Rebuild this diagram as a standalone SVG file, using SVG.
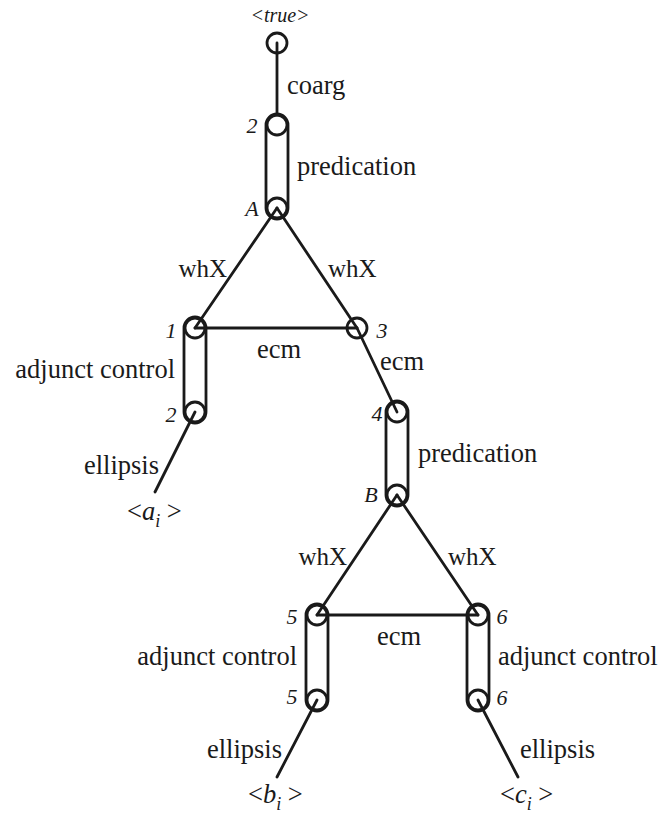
<svg xmlns="http://www.w3.org/2000/svg" width="661" height="820" viewBox="0 0 661 820">
<style>
text{font-family:"Liberation Serif","Times New Roman",serif;fill:#1a1a1a}
.lbl{font-size:26.5px}
.wh{font-size:25px}
.num{font-size:22px;font-style:italic}
.it{font-style:italic}
.sub{font-size:18px;font-style:italic}
.edge{stroke:#1a1a1a;stroke-width:2.8;fill:none;stroke-linecap:round}
.node{stroke:#1a1a1a;stroke-width:2.8;fill:none}
.cap{stroke:#1a1a1a;stroke-width:2.8;fill:none}
</style>
<rect width="661" height="820" fill="#ffffff"/>
<g id="connectors">
<line class="edge" x1="277" y1="43" x2="277" y2="115"/>
<line class="edge" x1="277" y1="208" x2="195" y2="328"/>
<line class="edge" x1="277" y1="208" x2="357" y2="328"/>
<line class="edge" x1="195" y1="328" x2="357" y2="328"/>
<line class="edge" x1="357" y1="328" x2="397" y2="412"/>
<line class="edge" x1="195" y1="412" x2="155" y2="492"/>
<line class="edge" x1="397" y1="495" x2="317" y2="615"/>
<line class="edge" x1="397" y1="495" x2="478" y2="615"/>
<line class="edge" x1="317" y1="615" x2="478" y2="615"/>
<line class="edge" x1="317" y1="700" x2="277" y2="777"/>
<line class="edge" x1="478" y1="700" x2="518" y2="777"/>
<rect class="cap" x="266" y="114" width="22" height="105" rx="11"/>
<rect class="cap" x="184" y="317" width="22" height="106" rx="11"/>
<rect class="cap" x="386" y="401" width="22" height="105" rx="11"/>
<rect class="cap" x="306" y="604" width="22" height="107" rx="11"/>
<rect class="cap" x="467" y="604" width="22" height="107" rx="11"/>
</g>
<g id="n-true"><circle class="node" cx="277" cy="43" r="10"/><text class="it" x="280" y="22" font-size="20" text-anchor="middle">&lt;true&gt;</text></g>
<g id="n-2a"><circle class="node" cx="277" cy="125" r="10"/><text class="num" x="252" y="133" text-anchor="middle">2</text></g>
<g id="n-A"><circle class="node" cx="277" cy="208" r="10"/><text class="num" x="252" y="216" text-anchor="middle">A</text></g>
<g id="n-1"><circle class="node" cx="195" cy="328" r="10"/><text class="num" x="171" y="338" text-anchor="middle">1</text></g>
<g id="n-3"><circle class="node" cx="357" cy="328" r="10"/><text class="num" x="382" y="338" text-anchor="middle">3</text></g>
<g id="n-2b"><circle class="node" cx="195" cy="412" r="10"/><text class="num" x="171" y="422" text-anchor="middle">2</text></g>
<g id="n-4"><circle class="node" cx="397" cy="412" r="10"/><text class="num" x="377" y="421" text-anchor="middle">4</text></g>
<g id="n-B"><circle class="node" cx="397" cy="495" r="10"/><text class="num" x="371" y="502" text-anchor="middle">B</text></g>
<g id="n-5a"><circle class="node" cx="317" cy="615" r="10"/><text class="num" x="292" y="624" text-anchor="middle">5</text></g>
<g id="n-6a"><circle class="node" cx="478" cy="615" r="10"/><text class="num" x="502" y="624" text-anchor="middle">6</text></g>
<g id="n-5b"><circle class="node" cx="317" cy="700" r="10"/><text class="num" x="292" y="704" text-anchor="middle">5</text></g>
<g id="n-6b"><circle class="node" cx="478" cy="700" r="10"/><text class="num" x="502" y="705" text-anchor="middle">6</text></g>
<g id="labels">
<text class="lbl" x="287" y="94">coarg</text>
<text class="lbl" x="297" y="175">predication</text>
<text class="wh" x="227" y="277" text-anchor="end">whX</text>
<text class="wh" x="328" y="277">whX</text>
<text class="lbl" x="257" y="358">ecm</text>
<text class="lbl" x="380" y="370">ecm</text>
<text class="lbl" x="175" y="378" text-anchor="end">adjunct control</text>
<text class="lbl" x="159" y="474" text-anchor="end">ellipsis</text>
<text class="lbl" x="418" y="462">predication</text>
<text class="wh" x="347" y="565" text-anchor="end">whX</text>
<text class="wh" x="448" y="565">whX</text>
<text class="lbl" x="377" y="645">ecm</text>
<text class="lbl" x="297" y="665" text-anchor="end">adjunct control</text>
<text class="lbl" x="498" y="665">adjunct control</text>
<text class="lbl" x="282" y="758" text-anchor="end">ellipsis</text>
<text class="lbl" x="520" y="758">ellipsis</text>
</g>
<g id="n-a"><text class="lbl" x="127" y="520">&lt;<tspan class="it">a</tspan><tspan class="sub" dy="7">i</tspan><tspan dy="-7"> &gt;</tspan></text></g>
<g id="n-b"><text class="lbl" x="248" y="803">&lt;<tspan class="it">b</tspan><tspan class="sub" dy="7">i</tspan><tspan dy="-7"> &gt;</tspan></text></g>
<g id="n-c"><text class="lbl" x="500" y="803">&lt;<tspan class="it">c</tspan><tspan class="sub" dy="7">i</tspan><tspan dy="-7"> &gt;</tspan></text></g>
</svg>
